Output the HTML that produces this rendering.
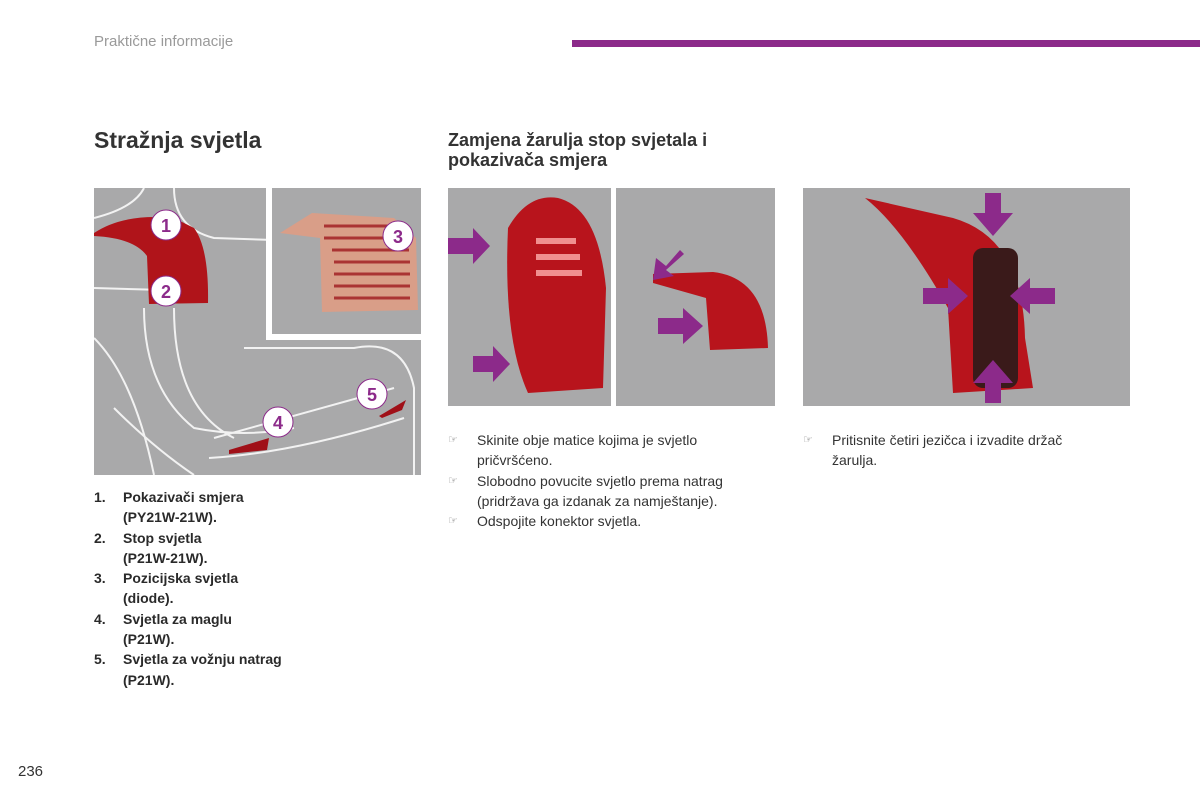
<!DOCTYPE html>
<html><head><meta charset="utf-8"><style>
body{margin:0;width:1200px;height:800px;background:#fff;position:relative;overflow:hidden;font-family:"Liberation Sans",sans-serif;color:#2a2a2a}
.a{position:absolute}
.hdr{left:94px;top:33px;font-size:15px;color:#9a9a9a}
.bar{left:572px;top:40px;width:628px;height:7px;background:#8c2a8a}
h1{position:absolute;left:94px;top:127px;margin:0;font-size:23px;font-weight:bold;color:#333}
h2{position:absolute;left:448px;top:130px;margin:0;font-size:18px;line-height:20px;font-weight:bold;color:#333}
ol{position:absolute;left:94px;top:487px;margin:0;padding:0;list-style:none;font-size:14px;font-weight:bold;line-height:20.3px}
ol li{padding-left:29px;position:relative}
ol li span{position:absolute;left:0}
.b{font-size:14px;line-height:20.3px;color:#333}
.b div{position:relative;padding-left:29px}
.b div:before{content:"☞";position:absolute;left:0;font-size:11px;color:#777}
.pg{left:18px;top:763px;font-size:15px;color:#333}
</style></head><body>
<div class="a hdr">Praktične informacije</div>
<div class="a bar"></div>
<h1>Stražnja svjetla</h1>
<h2>Zamjena žarulja stop svjetala i<br>pokazivača smjera</h2>

<svg class="a" style="left:94px;top:188px" width="327" height="287">
<rect width="327" height="287" fill="#a9a9aa"/>
<g fill="none" stroke="#f2f2f2" stroke-width="2">
<path d="M0 30 Q40 20 50 0 M80 0 Q80 40 120 50 L180 52 M0 100 L70 102 M260 100 L180 102 M50 120 Q50 200 100 240 Q150 250 200 240 M80 120 Q80 220 140 250 M0 150 Q40 190 60 287 M20 220 Q60 260 100 287 M120 250 L300 200 M115 270 Q200 265 310 230 M150 160 L260 160 Q310 150 320 200 L320 287"/>
</g>
<rect x="172" y="0" width="155" height="152" fill="#fff"/>
<rect x="178" y="0" width="149" height="146" fill="#a9a9aa"/>
<path d="M0 45 Q30 25 80 30 L100 40 Q115 60 114 115 L55 116 L53 68 Q40 50 0 48 Z" fill="#b0141a"/>
<path d="M186 45 L218 25 L300 30 L322 50 L324 122 L228 124 L226 50 Z" fill="#d99e88"/>
<g stroke="#a33" stroke-width="3"><path d="M230 38H300M230 50H310M238 62H315M240 74H316M240 86H316M240 98H316M240 110H316"/></g>
<path d="M135 262 L175 250 L173 262 L135 266Z M285 228 L312 212 L308 222 L288 230Z" fill="#a01018"/>
<g font-size="18" font-weight="bold" fill="#8c2a8a" text-anchor="middle" stroke="#8c2a8a">
<circle cx="72" cy="37" r="15" fill="#fff"/><text x="72" y="44" stroke="none">1</text>
<circle cx="72" cy="103" r="15" fill="#fff"/><text x="72" y="110" stroke="none">2</text>
<circle cx="304" cy="48" r="15" fill="#fff"/><text x="304" y="55" stroke="none">3</text>
<circle cx="184" cy="234" r="15" fill="#fff"/><text x="184" y="241" stroke="none">4</text>
<circle cx="278" cy="206" r="15" fill="#fff"/><text x="278" y="213" stroke="none">5</text>
</g></svg>

<svg class="a" style="left:448px;top:188px" width="327" height="218">
<rect width="327" height="218" fill="#a9a9aa"/>
<rect x="163" y="0" width="5" height="218" fill="#fff"/>
<path d="M60 40 Q80 5 110 10 Q150 20 158 100 L155 200 L80 205 Q55 150 60 40Z" fill="#b8141c"/>
<g fill="#f08f8f"><rect x="88" y="50" width="40" height="6"/><rect x="88" y="66" width="44" height="6"/><rect x="88" y="82" width="46" height="6"/></g>
<path d="M205 86 L265 84 Q318 90 320 160 L262 162 L258 110 L205 95Z" fill="#b8141c"/>
<g fill="#8c2a8a"><path d="M0 50 L25 50 L25 40 L42 58 L25 76 L25 66 L0 66Z"/><path d="M25 168 L45 168 L45 158 L62 176 L45 194 L45 184 L25 184Z"/><path d="M210 130 L235 130 L235 120 L255 138 L235 156 L235 146 L210 146Z"/><path d="M232 62 L218 78 L208 70 L205 92 L226 88 L218 82 L236 66Z"/></g>
</svg>

<svg class="a" style="left:803px;top:188px" width="327" height="218">
<rect width="327" height="218" fill="#a9a9aa"/>
<path d="M62 10 L150 30 Q220 50 222 150 L230 200 L150 205 L145 120 Q100 40 62 10Z" fill="#b8141c"/>
<rect x="170" y="60" width="45" height="140" rx="10" fill="#3a1a1a"/>
<g fill="#8c2a8a"><path d="M182 5 L198 5 L198 25 L210 25 L190 48 L170 25 L182 25Z"/><path d="M182 215 L198 215 L198 195 L210 195 L190 172 L170 195 L182 195Z"/><path d="M120 100 L145 100 L145 90 L165 108 L145 126 L145 116 L120 116Z"/><path d="M252 100 L227 100 L227 90 L207 108 L227 126 L227 116 L252 116Z"/></g>
</svg>

<ol>
<li><span>1.</span>Pokazivači smjera<br>(PY21W-21W).</li>
<li><span>2.</span>Stop svjetla<br>(P21W-21W).</li>
<li><span>3.</span>Pozicijska svjetla<br>(diode).</li>
<li><span>4.</span>Svjetla za maglu<br>(P21W).</li>
<li><span>5.</span>Svjetla za vožnju natrag<br>(P21W).</li>
</ol>

<div class="a b" style="left:448px;top:430px;width:320px">
<div>Skinite obje matice kojima je svjetlo pričvršćeno.</div>
<div>Slobodno povucite svjetlo prema natrag (pridržava ga izdanak za namještanje).</div>
<div>Odspojite konektor svjetla.</div>
</div>
<div class="a b" style="left:803px;top:430px;width:310px">
<div>Pritisnite četiri jezičca i izvadite držač<br>žarulja.</div>
</div>
<div class="a pg">236</div>
</body></html>
